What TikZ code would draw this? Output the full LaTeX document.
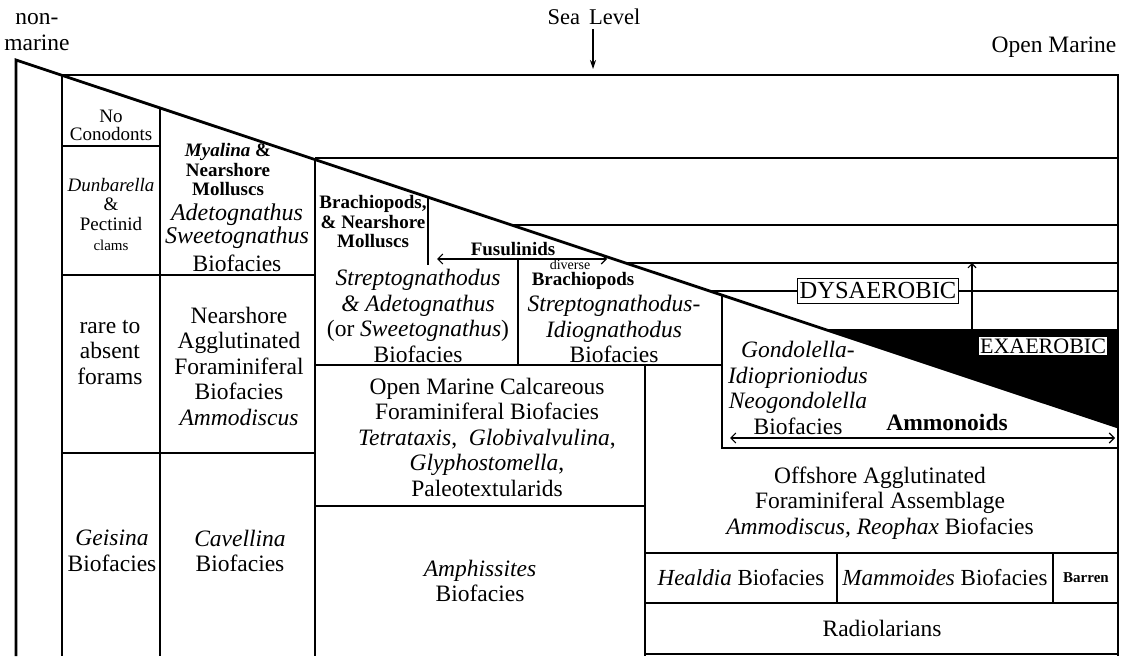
\documentclass[tikz,border=0pt]{standalone}
\usepackage{fontspec}
\setmainfont{Liberation Serif}
\usetikzlibrary{arrows.meta}

\newcommand{\fmain}{\fontsize{23.5}{25.5}\selectfont}
\newcommand{\fgen}{\fontsize{24}{23}\selectfont\itshape}
\newcommand{\fmid}{\fontsize{19}{19.5}\selectfont}
\newcommand{\fsmall}{\fontsize{15}{16}\selectfont}
\newcommand{\ftiny}{\fontsize{14}{14}\selectfont}

\tikzset{
  every node/.append style={font=\fmain, align=center, inner sep=0pt},
  wall/.style={line width=2.8pt},
  seam/.style={line width=1.6pt},
  pointer/.style={line width=1.1pt},
  boldlbl/.style={font=\fmid\bfseries},
  genus/.style={font=\fgen},
  oxybox/.style={draw, line width=1.1pt, fill=white, inner xsep=2.5pt, inner ysep=4.5pt},
}

\begin{document}
\begin{tikzpicture}[x=1pt, y=-1pt, >={Straight Barb[length=5pt,width=10pt]}]
    \useasboundingbox (0,0) rectangle (1124,656);
    \fill[white] (0,0) rectangle (1124,656);

    % black wedge (exaerobic)
    \fill (824,329) -- (1118,329) -- (1118,427) -- cycle;

    % thin lines, offshore side
    \draw[seam] (315,158) -- (1118,158);
    \draw[seam] (512,225) -- (1118,225);
    \draw[seam] (626,263) -- (1118,263);
    \draw[seam] (710,291) -- (1118,291);

    % frame, slope and columns
    \draw[wall] (16,656) -- (16,60) -- (1118,427);
    \draw[wall] (62,75) -- (1118,75) -- (1118,656);
    \draw[wall] (62,75) -- (62,656);
    \draw[wall] (160,108) -- (160,656);
    \draw[wall] (315,159) -- (315,656);
    \draw[wall] (428,197) -- (428,265);
    \draw[wall] (518,260) -- (518,365);
    \draw[wall] (645,365) -- (645,656);
    \draw[wall] (722,295) -- (722,448) -- (1118,448);
    \draw[wall] (62,146) -- (160,146);
    \draw[wall] (62,275) -- (315,275);
    \draw[wall] (62,453) -- (315,453);
    \draw[wall] (315,365) -- (722,365);
    \draw[wall] (315,506) -- (645,506);
    \draw[wall] (645,553) -- (1118,553);
    \draw[wall] (645,603) -- (1118,603);
    \draw[wall] (645,654) -- (1118,654);
    \draw[wall] (837,553) -- (837,603);
    \draw[wall] (1053,553) -- (1053,603);

    % top labels
    \node (nonmar) at (37,32) {non-\\marine};
    \node[font=\fontsize{22.5}{22.5}\selectfont] (sealevel) at (594,17) {Sea\hspace{9pt}Level};
    \node (openmar) at (1054,47) {Open Marine};
    \coordinate (slend) at (593,69);
    \draw[pointer, -{Stealth[length=9pt,width=6pt]}] (sealevel.south -| slend) ++(0,4) -- (slend);

    % nearshore columns
    \node[font=\fontsize{19}{18}\selectfont] (nocono) at (111,125) {No\\Conodonts};
    \node[font=\fmid] (dunbar) at (111,204) {\textit{Dunbarella}\\\&\\Pectinid};
    \node[font=\fsmall] (clams) at (111,245) {clams};
    \node[boldlbl] (myalina) at (228,170) {\textit{Myalina} \&\\Nearshore\\Molluscs};
    \node[genus] (adeto) at (237,226) {Adetognathus\\Sweetognathus};
    \node (adetobio) at (237,263) {Biofacies};
    \node (rare) at (110,352) {rare to\\absent\\forams};
    \node (nearagg) at (239,366) {Nearshore\\Agglutinated\\Foraminiferal\\Biofacies\\\textit{Ammodiscus}};
    \node (geisina) at (112,551) {\textit{Geisina}\\Biofacies};
    \node (cavellina) at (240,551) {\textit{Cavellina}\\Biofacies};

    % middle shelf
    \node[boldlbl] (brachnear) at (373,222) {Brachiopods,\\\& Nearshore\\Molluscs};
    \node[boldlbl] (fusul) at (513,249) {Fusulinids};
    \coordinate (fusL) at (437,259);
    \coordinate (fusR) at (607,259);
    \draw[pointer, <->] (fusL) -- (fusR);
    \node[font=\ftiny] (diverse) at (570,265) {diverse};
    \node[boldlbl] (brachdiv) at (583,281) {Brachiopods};
    \node (streptadeto) at (418,316) {\textit{Streptognathodus}\\\textit{\& Adetognathus}\\(or \textit{Sweetognathus})\\Biofacies};
    \node (streptidio) at (614,329) {\textit{Streptognathodus-}\\\textit{Idiognathodus}\\Biofacies};
    \node (calcfor) at (487,437) {Open Marine Calcareous\\Foraminiferal Biofacies\\\textit{Tetrataxis},\ \ \textit{Globivalvulina},\\\textit{Glyphostomella},\\Paleotextularids};
    \node (amphis) at (480,581) {\textit{Amphissites}\\Biofacies};

    % basin
    \node (gondo) at (798,388) {\textit{Gondolella-}\\\textit{Idioprioniodus}\\\textit{Neogondolella}\\Biofacies};
    \node[font=\fmain\bfseries] (ammon) at (947,422) {Ammonoids};
    \coordinate (ammL) at (730,438);
    \coordinate (ammR) at (1115,438);
    \draw[pointer, <->] (ammL) -- (ammR);
    \node[oxybox, font=\fontsize{24.5}{24.5}\selectfont] (dysaer) at (878,291) {DYSAEROBIC};
    \node[oxybox, font=\fontsize{22}{22}\selectfont, inner xsep=2pt, inner ysep=2.3pt] (exaer) at (1043,346) {EXAEROBIC};
    \coordinate (dysfoot) at (972,329);
    \coordinate (dystip) at (972,263);
    \draw[pointer, -{Straight Barb[length=4pt,width=8pt]}] (dysfoot) -- (dystip);
    \node (offshore) at (880,503) {Offshore Agglutinated\\Foraminiferal Assemblage\\\textit{Ammodiscus, Reophax} Biofacies};
    \node[font=\fontsize{23}{25}\selectfont] (healdia) at (741,578) {\textit{Healdia} Biofacies};
    \node[font=\fontsize{23}{25}\selectfont] (mammo) at (945,578) {\textit{Mammoides} Biofacies};
    \node[font=\fsmall\bfseries] (barren) at (1086,578) {Barren};
    \node (radio) at (882,628) {Radiolarians};
\end{tikzpicture}
\end{document}
